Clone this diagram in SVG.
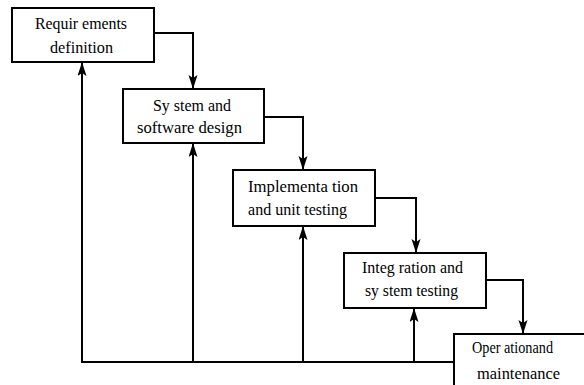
<svg xmlns="http://www.w3.org/2000/svg" width="584" height="385" viewBox="0 0 584 385">
  <defs>
    <marker id="head" markerUnits="userSpaceOnUse" markerWidth="14" markerHeight="10" refX="13" refY="4.5" orient="auto">
      <path d="M0,0 L14,4.5 L0,9 L3,4.5 Z" fill="#000000"/>
    </marker>
  </defs>
  <rect width="584" height="385" fill="#ffffff"/>

  <!-- connectors: forward steps and the feedback bus along the bottom -->
  <g id="connectors" fill="none" stroke="#000000" stroke-width="2">
    <path d="M154,33 H193 V88" marker-end="url(#head)"/>
    <path d="M264,117 H303 V169" marker-end="url(#head)"/>
    <path d="M375,198 H416 V252" marker-end="url(#head)"/>
    <path d="M486,280 H523 V333" marker-end="url(#head)"/>
    <path d="M454,362 H82 V63" marker-end="url(#head)"/>
    <path d="M193,362 V144" marker-end="url(#head)"/>
    <path d="M303,362 V227" marker-end="url(#head)"/>
    <path d="M414,362 V309" marker-end="url(#head)"/>
  </g>

  <g id="requirements">
    <rect x="12" y="8" width="142" height="54" fill="#ffffff" stroke="#000000" stroke-width="2"/>
    <text x="35" y="29" font-family="Liberation Serif" font-size="17" textLength="92" lengthAdjust="spacingAndGlyphs">Requir ements</text>
    <text x="50" y="53" font-family="Liberation Serif" font-size="17" textLength="63" lengthAdjust="spacingAndGlyphs">definition</text>
  </g>

  <g id="design">
    <rect x="123" y="89" width="141" height="54" fill="#ffffff" stroke="#000000" stroke-width="2"/>
    <text x="153" y="111" font-family="Liberation Serif" font-size="17" textLength="78" lengthAdjust="spacingAndGlyphs">Sy stem and</text>
    <text x="137" y="133" font-family="Liberation Serif" font-size="17" textLength="105" lengthAdjust="spacingAndGlyphs">software design</text>
  </g>

  <g id="implementation">
    <rect x="233" y="170" width="142" height="56" fill="#ffffff" stroke="#000000" stroke-width="2"/>
    <text x="248" y="192" font-family="Liberation Serif" font-size="17" textLength="110" lengthAdjust="spacingAndGlyphs">Implementa tion</text>
    <text x="248" y="215" font-family="Liberation Serif" font-size="17" textLength="99" lengthAdjust="spacingAndGlyphs">and unit testing</text>
  </g>

  <g id="integration">
    <rect x="344" y="253" width="142" height="55" fill="#ffffff" stroke="#000000" stroke-width="2"/>
    <text x="362" y="273" font-family="Liberation Serif" font-size="17" textLength="101" lengthAdjust="spacingAndGlyphs">Integ ration and</text>
    <text x="365" y="296" font-family="Liberation Serif" font-size="17" textLength="93" lengthAdjust="spacingAndGlyphs">sy stem testing</text>
  </g>

  <g id="operation">
    <rect x="454" y="334" width="140" height="60" fill="#ffffff" stroke="#000000" stroke-width="2"/>
    <text x="472" y="353" font-family="Liberation Serif" font-size="17" textLength="81" lengthAdjust="spacingAndGlyphs">Oper ationand</text>
    <text x="477" y="379" font-family="Liberation Serif" font-size="17" textLength="83" lengthAdjust="spacingAndGlyphs">maintenance</text>
  </g>
</svg>
